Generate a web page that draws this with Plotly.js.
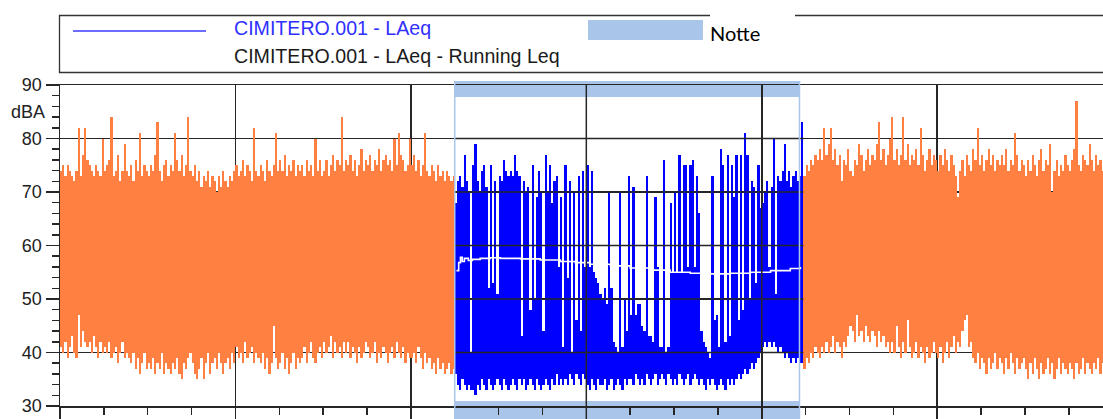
<!DOCTYPE html>
<html><head><meta charset="utf-8">
<script src="https://cdn.plot.ly/plotly-3.0.1.min.js"></script>
<style>html,body{margin:0;padding:0;background:#fff}#chart{width:1103px;height:419px}</style>
</head><body><div id="chart"></div>
<script>
// ---- data (hours from start of measurement, dBA) ----
const sampleStep = 0.05;          // hours between envelope samples
const eveningStart = 0;           // orange part before the night
const nightStart = 9.0;           // blue LAeq (Notte)
const dayStart = 16.95;           // orange part after the night
const notteStart = 9.0, notteEnd = 16.86;

// Evening LAeq: per-sample maximum / minimum
const eveningTop = [
74,75,73,75,74,73,72,74,82,73, 77,82,76,75,74,73,75,74,73,80,
74,75,76,84,73,74,77,72,74,79, 74,73,75,72,76,74,81,73,75,74,
73,75,74,77,83,74,72,75,76,73, 75,74,81,76,74,77,73,75,84,74,
73,75,72,74,71,73,72,74,71,73, 72,70,73,71,74,72,71,73,72,74,
75,73,74,76,73,75,74,72,82,74, 73,75,74,72,76,74,73,75,81,74,
76,74,77,73,75,74,76,73,75,74, 75,73,76,74,75,73,80,74,76,73,
74,76,73,75,77,74,76,75,84,74, 76,75,77,74,76,73,75,78,74,76,
75,77,74,76,75,78,74,76,77,75, 76,74,80,75,81,77,76,74,75,80,
75,77,74,76,73,75,81,74,73,75, 74,72,75,73,74,72,74,73,72,73];
const eveningBottom = [
41,40,42,39,41,43,40,39,47,41, 44,42,41,42,40,43,41,39,42,40,
41,40,42,39,40,41,38,40,42,39, 40,39,38,40,37,39,36,38,40,37,
38,37,39,36,38,37,40,36,38,37, 36,38,37,39,36,35,38,37,39,40,
38,36,35,37,39,35,38,40,36,38, 39,37,40,38,36,38,39,37,40,38,
41,39,40,38,42,39,40,41,38,40, 39,38,40,37,39,36,38,45,39,37,
38,40,37,39,36,38,40,37,39,38, 39,41,38,40,42,39,38,40,41,39,
42,40,41,43,39,42,40,41,39,42, 40,42,39,41,40,38,41,39,40,42,
41,39,40,42,38,40,39,41,40,38, 40,41,39,42,40,39,41,38,40,39,
39,40,38,41,39,37,40,38,39,37, 38,36,39,37,38,36,37,38,36,37];

// Night LAeq (blue)
const nightTop = [
68,72,73,71,77,72,70,40,75,79, 72,70,74,75,71,52,75,53,72,51,
73,72,76,74,73,74,73,77,74,73, 43,72,70,71,48,75,50,69,74,70,
44,77,70,75,68,72,73,56,69,41, 75,54,72,40,70,46,73,44,74,56,
75,56,74,55,54,53,51,50,52,49, 70,52,42,41,40,70,41,50,44,73,
47,71,47,49,49,45,44,73,43,43, 42,69,56,41,41,76,40,41,68,55,
70,55,77,55,75,75,56,75,76,56, 73,66,44,42,41,40,39,73,46,47,
41,78,75,42,77,43,75,69,77,46, 77,48,81,77,50,72,71,53,75,67,
68,70,72,56,71,80,51,73,72,74, 79,72,74,71,73,74,72,73,83];
const nightBottom = [
36,34,33,35,34,33,34,33,33,32, 34,33,35,34,33,35,34,33,34,35,
34,33,35,34,33,34,35,34,33,35, 34,35,33,34,35,34,33,35,34,33,
34,35,34,33,35,34,36,34,35,34, 35,34,36,35,34,36,35,34,36,35,
34,33,35,34,33,35,34,34,35,33, 34,35,33,34,35,34,33,35,34,35,
35,34,36,35,34,35,34,36,35,34, 35,36,34,35,36,35,34,36,35,34,
35,34,36,35,34,35,36,34,35,36, 35,34,35,34,33,35,34,35,34,33,
34,35,34,33,35,34,35,34,35,36, 35,36,37,36,37,38,37,38,39,40,
41,42,41,42,41,42,41,40,41,40, 39,40,39,38,39,38,39,38,38];

// Day LAeq (orange, after the night)
const dayTop = [
73,75,74,76,75,77,76,78,76,82, 77,79,82,76,78,75,77,72,76,75,
78,74,73,76,75,79,77,74,76,78, 75,77,76,79,83,76,78,75,77,80,
84,76,78,75,77,84,76,79,75,77, 76,78,75,82,77,74,76,78,75,77,
76,74,77,75,78,76,74,77,75,73, 69,74,76,73,77,75,74,78,76,82,
75,77,74,76,78,75,77,74,76,75, 77,75,78,74,76,75,81,77,74,76,
75,73,76,74,77,75,73,76,78,74, 76,75,79,70,74,76,73,75,74,77,
75,74,76,78,87,75,74,77,76,75, 79,76,74,77,75,76,74];
const dayBottom = [
37,39,38,40,39,41,40,39,41,40, 42,40,41,43,40,42,41,39,42,41,
43,45,44,42,47,43,44,42,45,43, 42,44,43,41,44,42,43,41,42,40,
42,40,45,41,39,42,40,46,41,39, 40,42,39,41,40,38,41,39,40,42,
40,39,41,38,40,42,39,41,43,40, 42,41,44,46,47,41,42,39,38,40,
37,39,38,36,39,37,38,40,37,39, 38,36,39,37,40,38,36,39,37,38,
39,37,35,38,36,39,37,35,38,36, 37,39,36,38,35,37,39,36,38,37,
36,38,37,35,38,36,37,39,36,38, 37,36,38,37,39,36,38];

// Running Leq (white) during the night
const runTime = [9.04,9.09,9.13,9.17,9.22,9.31,9.40,9.58,9.81,10.04,10.5,10.95,11.41,11.75,12.09,12.55,13.0,13.46,13.91,14.37,14.83,15.28,15.74,16.2,16.65,16.88];
const runLeq  = [55.3,56.8,57.8,57.0,57.6,57.2,57.4,57.6,57.7,57.6,57.5,57.3,57.0,56.8,56.5,56.2,55.8,55.4,55.0,54.8,54.7,54.8,55.0,55.3,55.7,56.0];

const yTicks = [30,40,50,60,70,80,90];
const xGridHours = [0,4,8,12,16,20];
const legendTexts = ["CIMITERO.001 - LAeq", "CIMITERO.001 - LAeq - Running Leq", "Notte"];

// ---- build: each sample is a vertical min-max span ----
function span(start, step, tops, bots, color){
  return {
    type:'bar', x: tops.map((_, i) => start + (i + 0.5) * step),
    y: tops.map((t, i) => t - bots[i]), base: bots.slice(), width: step,
    marker:{color: color, line:{width:0}}, hoverinfo:'skip'
  };
}
const ORANGE = '#ff8040', BLUE = '#0000ff', BAND = '#a9c6ea', GRID = '#262626';

const traces = [
  span(nightStart, sampleStep, nightTop, nightBottom, BLUE),
  span(eveningStart, sampleStep, eveningTop, eveningBottom, ORANGE),
  span(dayStart, sampleStep, dayTop, dayBottom, ORANGE),
  {type:'scatter', x: runTime, y: runLeq, mode:'lines', line:{color:'#ffffff', width:1.6, shape:'hv'}, hoverinfo:'skip'}
];

// pixel helpers for the legend block (paper coords)
const L=60, W=1043, T=85, H=321;
const px = v => (v-L)/W, py = v => (406-v)/H;

const shapes = [
  {type:'rect', xref:'x', yref:'paper', x0:notteStart, x1:notteEnd, y0:py(97), y1:py(81), fillcolor:BAND, line:{width:0}, layer:'below'},
  {type:'rect', xref:'x', yref:'paper', x0:notteStart, x1:notteEnd, y0:py(425), y1:py(401), fillcolor:BAND, line:{width:0}, layer:'below'},
];
yTicks.filter(v=>v>30&&v<90).forEach(v=>shapes.push({type:'line', xref:'x', yref:'y', x0:nightStart, x1:dayStart, y0:v, y1:v, line:{color:GRID, width:1.5}, layer:'above'}));
xGridHours.filter(h=>h>nightStart&&h<dayStart).forEach(h=>shapes.push({type:'line', xref:'x', yref:'paper', x0:h, x1:h, y0:py(425), y1:1, line:{color:GRID, width:1.5}, layer:'above'}));
[notteStart, notteEnd].forEach(h=>shapes.push({type:'line', xref:'x', yref:'paper', x0:h, x1:h, y0:py(425), y1:py(81), line:{color:BAND, width:1.5}, layer:'above'}));
shapes.push({type:'rect', xref:'paper', yref:'paper', x0:px(59.5), x1:px(1115), y0:py(72.5), y1:py(15.5), line:{color:'#333', width:1.3}, fillcolor:'rgba(0,0,0,0)', layer:'above'});
shapes.push({type:'rect', xref:'paper', yref:'paper', x0:px(710), x1:px(795), y0:py(19), y1:py(12), line:{width:0}, fillcolor:'#fff', layer:'above'});
shapes.push({type:'line', xref:'paper', yref:'paper', x0:px(73), x1:px(206), y0:py(31), y1:py(31), line:{color:'#3b3bff', width:1.3}, layer:'above'});
shapes.push({type:'rect', xref:'paper', yref:'paper', x0:px(588), x1:px(703), y0:py(40), y1:py(20), line:{width:0}, fillcolor:BAND, layer:'above'});

const FONT = 'Liberation Sans, Arial, sans-serif';
const annotations = [
  {xref:'paper', yref:'paper', x:px(232), y:py(28), xanchor:'left', yanchor:'middle', text:legendTexts[0], showarrow:false, font:{family:FONT, size:19.6, color:'#3030ff'}},
  {xref:'paper', yref:'paper', x:px(232), y:py(56), xanchor:'left', yanchor:'middle', text:legendTexts[1], showarrow:false, font:{family:FONT, size:19.6, color:'#1a1a1a'}},
  {xref:'paper', yref:'paper', x:px(708), y:py(32.5), xanchor:'left', yanchor:'middle', text:legendTexts[2], showarrow:false, font:{family:'Lato, sans-serif', size:20, color:'#000'}},
  {xref:'paper', yref:'paper', x:px(47), y:py(112), xanchor:'right', yanchor:'middle', text:'dBA', showarrow:false, font:{family:FONT, size:18, color:'#222'}}
];

const layout = {
  width:1103, height:419,
  margin:{l:L, r:0, t:T, b:13, pad:0},
  paper_bgcolor:'#fff', plot_bgcolor:'#fff',
  showlegend:false, barmode:'overlay', bargap:0,
  xaxis:{range:[0,23.78], tick0:0, dtick:4, ticks:'outside', ticklen:13, tickwidth:1.5, tickcolor:GRID,
         showticklabels:false, showgrid:true, gridcolor:GRID, gridwidth:1.5, zeroline:false,
         showline:true, linecolor:GRID, linewidth:1.5, mirror:true, automargin:false,
         minor:{dtick:1, ticks:'outside', ticklen:7, tickwidth:1.5, tickcolor:GRID, showgrid:false}},
  yaxis:{range:[30,90], tickvals:yTicks, ticktext:yTicks.map(String), ticks:'outside', ticklen:13, tickwidth:1.5, tickcolor:GRID,
         tickfont:{family:FONT, size:18, color:'#222'}, showgrid:true, gridcolor:GRID, gridwidth:1.5, zeroline:false,
         showline:true, linecolor:GRID, linewidth:1.5, automargin:false,
         minor:{dtick:2, ticks:'outside', ticklen:7, tickwidth:1.5, tickcolor:GRID, showgrid:false}},
  shapes, annotations
};
Plotly.newPlot('chart', traces, layout, {displayModeBar:false, staticPlot:true});
</script></body></html>
